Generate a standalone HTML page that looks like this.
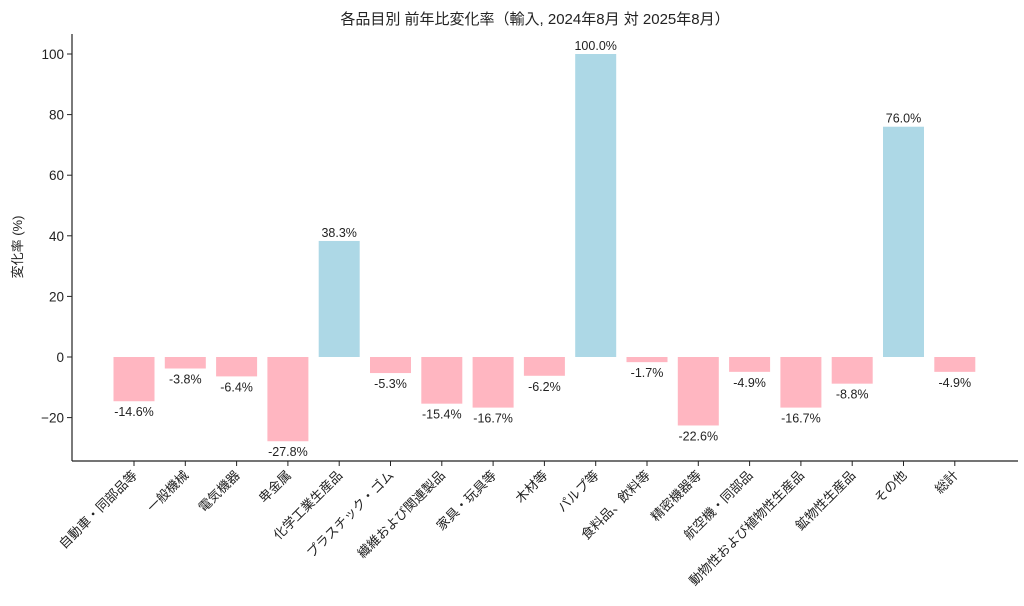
<!DOCTYPE html>
<html><head><meta charset="utf-8">
<style>
html,body{margin:0;padding:0;background:#fff;}
svg{display:block;font-family:"Liberation Sans","Noto Sans CJK JP",sans-serif;}
</style></head>
<body>
<svg id="chart" width="1024" height="606" xmlns="http://www.w3.org/2000/svg">
<text x="535" y="24" font-size="15" text-anchor="middle" fill="#222">各品目別 前年比変化率（輸入, 2024年8月 対 2025年8月）</text>
<text transform="translate(22,247) rotate(-90)" font-size="13" text-anchor="middle" fill="#222">変化率 (%)</text>
<g id="plot"></g>
</svg>
<script>
const categories = ["自動車・同部品等","一般機械","電気機器","卑金属","化学工業生産品","プラスチック・ゴム","繊維および関連製品","家具・玩具等","木材等","パルプ等","食料品、飲料等","精密機器等","航空機・同部品","動物性および植物性生産品","鉱物性生産品","その他","総計"];
const values = [-14.6,-3.8,-6.4,-27.8,38.3,-5.3,-15.4,-16.7,-6.2,100.0,-1.7,-22.6,-4.9,-16.7,-8.8,76.0,-4.9];
const yTicks = [-20,0,20,40,60,80,100];

const NS="http://www.w3.org/2000/svg";
const g=document.getElementById('plot');
const axL=72, axB=461, axTop=34;
function yS(v){return 357 - v*3.03;}
function xS(i){return 134 + i*51.3;}
function mk(tag,attrs,parent){const e=document.createElementNS(NS,tag);for(const k in attrs)e.setAttribute(k,attrs[k]);(parent||g).appendChild(e);return e;}

values.forEach((v,i)=>{
  const x=xS(i)-20.5, y0=yS(0), y1=yS(v);
  const r=mk('rect',{x:x,y:Math.min(y0,y1),width:41,height:Math.abs(y1-y0),fill:v>=0?'#add8e6':'#ffb6c1'});
  
  
  const t=mk('text',{x:xS(i),y:v>=0?y1-4:y1+15,'font-size':12.5,'text-anchor':'middle',fill:'#222'});
  t.textContent=v.toFixed(1)+'%';
  
  
  const tk=mk('line',{x1:xS(i),x2:xS(i),y1:axB,y2:axB+5,stroke:'#222','stroke-width':1});
  
  
  const lx=xS(i)+4, ly=axB+15;
  const lt=mk('text',{x:lx,y:ly,'font-size':13,'text-anchor':'end',fill:'#222',transform:`rotate(-45 ${lx} ${ly})`});
  lt.textContent=categories[i];
  
  
});
yTicks.forEach(v=>{
  const tk=mk('line',{x1:axL-5,x2:axL,y1:yS(v),y2:yS(v),stroke:'#222','stroke-width':1});
  
  
  const t=mk('text',{x:axL-8,y:yS(v)+5,'font-size':13.5,'text-anchor':'end',fill:'#222'});
  t.textContent=v<0?'−'+Math.abs(v):String(v);
  
  
});
const ya=mk('line',{x1:axL,x2:axL,y1:axTop,y2:axB,stroke:'#222','stroke-width':1.2});


const xa=mk('line',{x1:axL,x2:1018,y1:axB,y2:axB,stroke:'#222','stroke-width':1.2});


</script>
</body></html>
